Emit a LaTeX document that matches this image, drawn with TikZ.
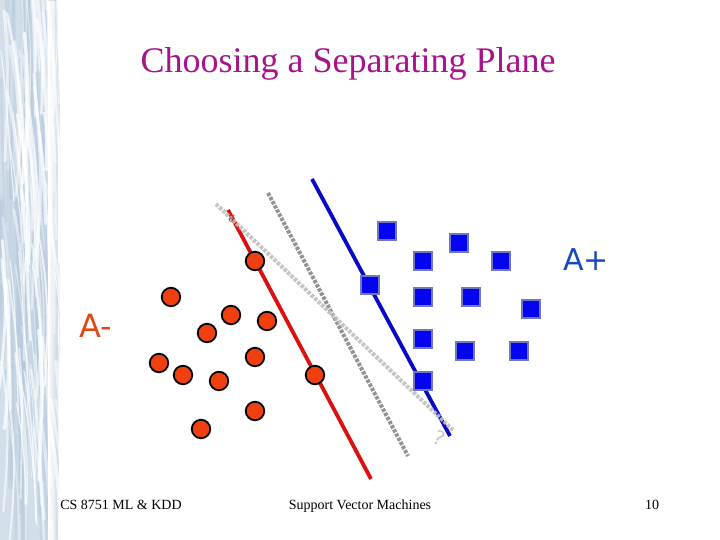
\documentclass[tikz,border=0pt]{standalone}
\usepackage{fontspec}
\setmainfont{Liberation Serif}
\newfontfamily\labelsans{DejaVu Sans}
\usetikzlibrary{fadings}
\definecolor{titlec}{HTML}{A8128C}
\definecolor{redline}{HTML}{DC1010}
\definecolor{blueline}{HTML}{0808C8}
\definecolor{circfill}{HTML}{F04010}
\definecolor{sqfill}{HTML}{0404F0}
\definecolor{sqedge}{HTML}{7078C0}
\definecolor{texbase}{HTML}{D2DFEB}
\definecolor{texdark}{HTML}{AFC4D8}
\definecolor{apluscol}{HTML}{1848C0}
\definecolor{aminuscol}{HTML}{E04818}
\tikzset{
  x=1pt,y=-1pt,
  redpt/.style={circle,draw=black,line width=1.8pt,fill=circfill,minimum size=18.5pt,inner sep=0pt},
  bluept/.style={rectangle,draw=sqedge,line width=2.4pt,fill=sqfill,minimum size=18.5pt,inner sep=0pt},
  sepline/.style={line width=3.8pt},
  dotline/.style={line width=4pt,dash pattern=on 3.3pt off 1.4pt},
  footer/.style={font=\fontsize{14}{16}\selectfont,text=black,inner sep=0pt,anchor=base},
}
\begin{document}
\begin{tikzpicture}
\useasboundingbox (0,0) rectangle (720,540);
\fill[white] (0,0) rectangle (720,540);
% textured side band
\begin{scope}
\clip (0,0) rectangle (60,540);
\fill[texbase] (0,0) rectangle (58,540);
\pgfmathsetseed{8751}
\foreach \i in {1,...,60}{
  \pgfmathsetmacro{\xa}{rnd*58}
  \pgfmathsetmacro{\xb}{\xa+(rnd-0.5)*10}
  \pgfmathsetmacro{\xc}{\xb+(rnd-0.5)*10}
  \pgfmathsetmacro{\ya}{rnd*520-80}
  \pgfmathsetmacro{\lw}{1.5+rnd*4}
  \draw[texdark,line width=\lw pt,opacity=0.35,line cap=round]
    (\xa,\ya) .. controls (\xb,\ya+70) and (\xc,\ya+130) .. (\xc,\ya+200);
}
\foreach \i in {1,...,90}{
  \pgfmathsetmacro{\xa}{rnd*56}
  \pgfmathsetmacro{\xb}{\xa+4+rnd*6}
  \pgfmathsetmacro{\xc}{\xb+(rnd-0.3)*10}
  \pgfmathsetmacro{\xd}{\xc+(rnd-0.6)*12}
  \pgfmathsetmacro{\ya}{rnd*520-80}
  \pgfmathsetmacro{\lw}{0.8+rnd*2.6}
  \pgfmathsetmacro{\op}{0.3+rnd*0.5}
  \draw[white,line width=\lw pt,opacity=\op,line cap=round]
    (\xa,\ya) .. controls (\xb,\ya+50) and (\xc,\ya+95) .. (\xd,\ya+150);
}
\fill[white,path fading=east,fading angle=0] (48,0) rectangle (60,540);
\end{scope}
% title and labels
\node[font=\fontsize{36}{40}\selectfont,text=titlec,inner sep=0pt,anchor=base] (title) at (348,73) {Choosing a Separating Plane};
\node[font=\labelsans\fontsize{30}{34}\selectfont,text=apluscol,inner sep=0pt,anchor=base] (aplus) at (586,270) {A+};
\node[font=\labelsans\fontsize{32}{36}\selectfont,text=aminuscol,inner sep=0pt,anchor=base] (aminus) at (96,337) {A-};
\node[footer] (f1) at (121,509) {CS 8751 ML \& KDD};
\node[footer] (f2) at (360,509) {Support Vector Machines};
\node[footer] (f3) at (652,509) {10};
% line ends
\coordinate (lga) at (216,204);
\coordinate (lgb) at (453,430);
\coordinate (dga) at (268,193);
\coordinate (dgb) at (408,456);
\coordinate (ra) at (228,210);
\coordinate (rb) at (371,479);
\coordinate (ba) at (312,179);
\coordinate (bb) at (450,436);
\draw[sepline,redline] (ra) -- (rb);
\draw[sepline,blueline] (ba) -- (bb);
\draw[dotline,color=gray!85] (dga) -- (dgb);
\draw[dotline,color=gray!50,opacity=.9] (lga) -- (lgb);
% question marks
\node[font=\fontsize{12}{14}\selectfont,text=gray!70!black,rotate=150,inner sep=0pt] (qa) at (232,219) {?};
\node[font=\labelsans\fontsize{20}{22}\selectfont,text=gray!45,rotate=-25,inner sep=0pt] (qb) at (439,438) {?};
% points
\foreach \n/\x/\y in {c1/255/261,c2/171/297,c3/231/315,c4/207/333,c5/267/321,c6/255/357,c7/159/363,c8/183/375,c9/219/381,c10/315/375,c11/255/411,c12/201/429}
  \node[redpt] (\n) at (\x,\y) {};
\foreach \n/\x/\y in {s1/387/231,s2/459/243,s3/423/261,s4/501/261,s5/370/285,s6/423/297,s7/471/297,s8/531/309,s9/423/339,s10/465/351,s11/519/351,s12/423/381}
  \node[bluept] (\n) at (\x,\y) {};
\end{tikzpicture}
\end{document}
